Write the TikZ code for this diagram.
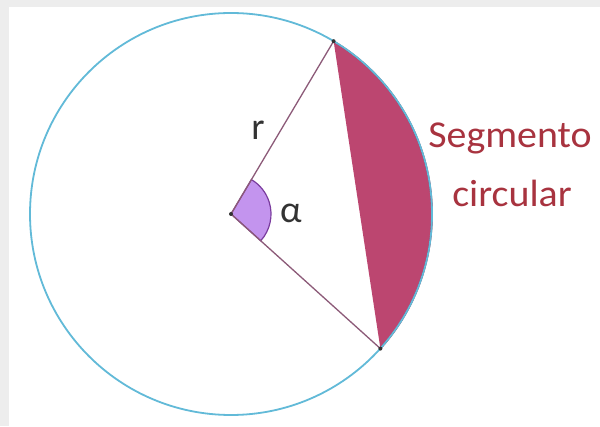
\documentclass[tikz,border=0pt]{standalone}
\usepackage{fontspec}
\setsansfont{Carlito}
\usepackage{xcolor}
\usetikzlibrary{positioning}
\definecolor{framecolor}{HTML}{EDEDED}
\definecolor{circlecolor}{HTML}{62BAD8}
\definecolor{segmentcolor}{HTML}{BC4670}
\definecolor{segmentedge}{HTML}{7E2347}
\definecolor{radiuscolor}{HTML}{8C5A78}
\definecolor{anglecolor}{HTML}{C394EE}
\definecolor{angleedge}{HTML}{7A3C9E}
\definecolor{labelcolor}{HTML}{A8333F}

\begin{document}
\begin{tikzpicture}[x=1pt, y=1pt, font=\sffamily,
    radiusline/.style={line width=1.3pt, radiuscolor},
    symbol/.style={font=\fontsize{38}{40}\selectfont\sffamily, text=black!80, inner sep=0pt},
    caption/.style={font=\fontsize{38}{40}\selectfont\sffamily, text=labelcolor, inner sep=0pt, xscale=1.05, anchor=base}]
    % Frame
    \useasboundingbox (0,0) rectangle (600,426);
    \fill[white] (0,0) rectangle (600,426);
    \fill[framecolor] (0,419) rectangle (600,426);
    \fill[framecolor] (0,0) rectangle (9,426);

    % Centre and chord ends
    \coordinate (O) at (231,212);   % centre
    \coordinate (A) at (333.6,384.8); % upper end of chord
    \coordinate (B) at (380.4,77.4);  % lower end of chord

    % Circular segment
    \fill[segmentcolor] (B) arc[start angle=-42, end angle=59.3, radius=201] -- cycle;
    \draw[line width=1.6pt, segmentedge] (B) arc[start angle=-42, end angle=59.3, radius=201];

    % Circle
    \draw[line width=1.8pt, circlecolor] (O) circle[radius=201];

    % Angle wedge
    \draw[line width=1.2pt, angleedge, fill=anglecolor] (O) -- ++(-42:40) arc[start angle=-42, end angle=59.3, radius=40] -- cycle;

    % Radii
    \draw[radiusline] (O) -- (A);
    \draw[radiusline] (O) -- (B);
    \fill[black!80] (O) circle[radius=2];
    \fill[black!80] (A) circle[radius=2];
    \fill[black!80] (B) circle[radius=2];

    % Labels
    \node[symbol] (rlabel) at (258,296) {r};
    \node[symbol] (alphalabel) at (291,213) {α};
    \node[caption] (segtop) at (510,278) {Segmento};
    \node[caption] (segbottom) at (512,219) {circular};
\end{tikzpicture}
\end{document}
